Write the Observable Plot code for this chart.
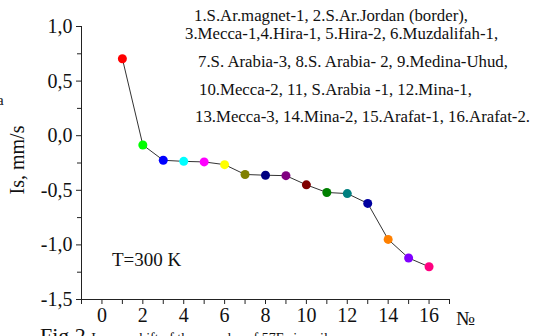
<!DOCTYPE html>
<html>
<head>
<meta charset="utf-8">
<script src="https://cdn.jsdelivr.net/npm/d3@7"></script>
<script src="https://cdn.jsdelivr.net/npm/@observablehq/plot@0.6"></script>
<style>
  html, body { margin: 0; padding: 0; background: #fff; }
  body { width: 539px; height: 336px; overflow: hidden; position: relative; font-family: "Liberation Serif", "Times New Roman", serif; color: #111; }
  #chart { position: absolute; left: 0; top: 0; }
  #chart svg, #chart svg text { font-family: "Liberation Serif", "Times New Roman", serif !important; font-size: 20px; }
  .t { position: absolute; white-space: nowrap; line-height: 1; }
</style>
</head>
<body>
<div id="chart"></div>
<script>
// Sample numbers (x) and isomer shift values Is, mm/s
const sampleNo = [1, 2, 3, 4, 5, 6, 7, 8, 9, 10, 11, 12, 13, 14, 15, 16];
const isValues = [0.705, -0.085, -0.225, -0.235, -0.24, -0.265, -0.355, -0.362, -0.366, -0.45, -0.52, -0.53, -0.62, -0.95, -1.12, -1.20];
const pointColors = ["#ff0000", "#00ff00", "#0000ff", "#00ffff", "#ff00ff", "#ffff00", "#808000", "#000080",
                     "#800080", "#800000", "#008000", "#008080", "#0000a0", "#ff8000", "#8000ff", "#ff0080"];
const yTicks = [-1.5, -1.0, -0.5, 0.0, 0.5, 1.0];
const yMinorTicks = [-1.25, -0.75, -0.25, 0.25, 0.75];
const xTicks = [0, 2, 4, 6, 8, 10, 12, 14, 16];
const xMinorTicks = [-1, 1, 3, 5, 7, 9, 11, 13, 15, 17];
const yLabel = "Is, mm/s";
const xLabel = "№";
const legendLines = [
  "1.S.Ar.magnet-1, 2.S.Ar.Jordan (border),",
  "3.Mecca-1,4.Hira-1, 5.Hira-2, 6.Muzdalifah-1,",
  "7.S. Arabia-3, 8.S. Arabia- 2, 9.Medina-Uhud,",
  "10.Mecca-2,  11, S.Arabia -1, 12.Mina-1,",
  "13.Mecca-3, 14.Mina-2, 15.Arafat-1, 16.Arafat-2."
];

const data = sampleNo.map((n, i) => ({n, v: isValues[i], c: pointColors[i]}));
const fmt = d => d.toFixed(1).replace(".", ",");

const plot = Plot.plot({
  width: 539,
  height: 336,
  marginLeft: 81,
  marginRight: 90,
  marginTop: 26,
  marginBottom: 37,
  x: {domain: [-1, 17]},
  y: {domain: [-1.5, 1.0]},
  style: {fontFamily: "'Liberation Serif', serif", fontSize: "20px", color: "#111", background: "transparent"},
  marks: [
    Plot.ruleX([-1], {stroke: "#222", strokeWidth: 1}),
    Plot.ruleY([-1.5], {stroke: "#222", strokeWidth: 1}),
    Plot.axisY(yTicks, {tickSize: 5, tickPadding: 4, tickFormat: fmt, label: null, stroke: "#222", fill: "#111"}),
    Plot.axisY(yMinorTicks, {tickSize: 4, tickFormat: () => "", label: null, stroke: "#222"}),
    Plot.axisX(xTicks, {tickSize: 5, tickPadding: 3, tickFormat: d => String(d), label: null, stroke: "#222", fill: "#111"}),
    Plot.axisX(xMinorTicks, {tickSize: 5, tickFormat: () => "", label: null, stroke: "#222"}),
    Plot.line(data, {x: "n", y: "v", stroke: "#333", strokeWidth: 1}),
    Plot.dot(data, {x: "n", y: "v", r: 4.5, fill: "c", stroke: "none"})
  ]
});
document.getElementById("chart").appendChild(plot);

function addText(txt, left, top, size) {
  const d = document.createElement("div");
  d.className = "t";
  d.style.left = left + "px";
  d.style.top = top + "px";
  d.style.fontSize = size + "px";
  d.textContent = txt;
  document.body.appendChild(d);
  return d;
}

const legendPos = [[194, 8], [185, 26], [198, 54], [199, 82], [195, 109]];
legendLines.forEach((s, i) => addText(s, legendPos[i][0], legendPos[i][1], 16.8));

addText("T=300 K", 112, 250, 19);
addText(xLabel, 456, 308, 20);
addText("a", -3, 93, 15);

const yl = addText(yLabel, 0, 0, 20);
yl.style.left = "17px";
yl.style.top = "160px";
yl.style.transform = "translate(-50%, -50%) rotate(-90deg)";

const cap = addText("Fig.2 ", 40, 325, 22);
const sm = document.createElement("span");
sm.style.fontSize = "14px";
sm.textContent = "Isomer shift of the samples of 57Fe in soil";
cap.appendChild(sm);
</script>
</body>
</html>
